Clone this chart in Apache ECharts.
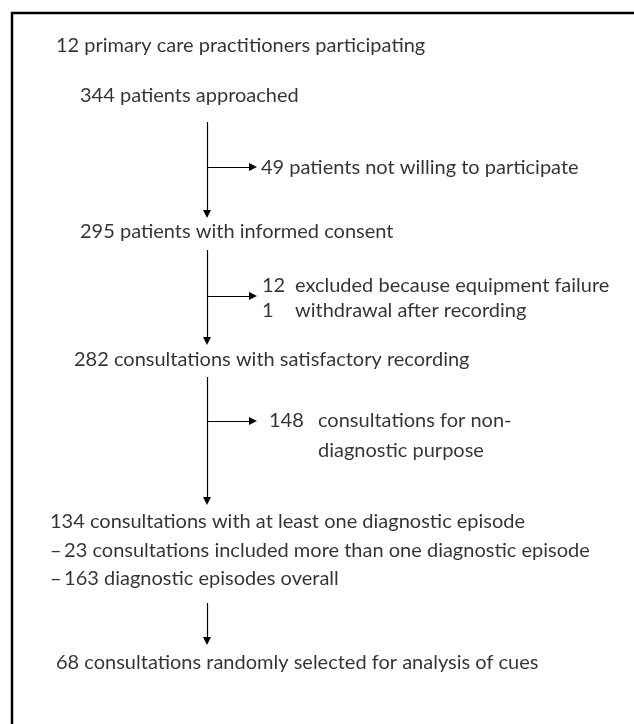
<!DOCTYPE html>
<html>
<head>
<meta charset="utf-8">
<script src="https://cdn.jsdelivr.net/npm/echarts@6/dist/echarts.min.js"></script>
<style>
  html, body { margin: 0; padding: 0; background: #fff; }
  #main { width: 634px; height: 724px; }
</style>
</head>
<body>
<div id="main"></div>
<script>
// main flow stages
var stageCounts = [12, 344, 295, 282, 134, 68];
var stageTexts = [
  "primary care practitioners participating",
  "patients approached",
  "patients with informed consent",
  "consultations with satisfactory recording",
  "consultations with at least one diagnostic episode",
  "consultations randomly selected for analysis of cues"
];
// notes under the 134 stage
var noteCounts = [23, 163];
var noteTexts = [
  "consultations included more than one diagnostic episode",
  "diagnostic episodes overall"
];
// exclusions at each branch
var exclCounts = [[49], [12, 1], [148]];
var exclTexts = [
  ["patients not willing to participate"],
  ["excluded because equipment failure", "withdrawal after recording"],
  ["consultations for non-\ndiagnostic purpose"]
];

(function () {
  var myChart = echarts.init(document.getElementById("main"));

  // layout (pixels)
  var stagePos = [[56, 46], [80, 96], [80, 232], [74, 360], [50, 522], [56, 663]];
  var notePos = [[50, 551], [50, 579]];
  var trunkX = 207;
  var arrows = [[122, 214], [250, 341], [377, 501], [603, 641]];
  var branchY = [167, 296, 421];
  var branchEnd = 253;
  var exclLayout = [
    { numX: 261, txtX: null, y: [168] },
    { numX: 262, txtX: 295, y: [286, 311] },
    { numX: 269, txtX: 318, y: [421] }
  ];

  var font = { fontFamily: "Lato", fontSize: 20, color: "#000" };
  var lineGap = 30;

  var texts = [];
  stageCounts.forEach(function (c, i) {
    texts.push({ value: stagePos[i], text: c + " " + stageTexts[i] });
  });
  noteCounts.forEach(function (c, i) {
    texts.push({ value: notePos[i], text: "\u2013\u2009" + c + " " + noteTexts[i] });
  });
  exclCounts.forEach(function (group, g) {
    var L = exclLayout[g];
    group.forEach(function (c, k) {
      if (L.txtX === null) {
        texts.push({ value: [L.numX, L.y[k]], text: c + " " + exclTexts[g][k] });
      } else {
        texts.push({ value: [L.numX, L.y[k]], text: String(c) });
        texts.push({ value: [L.txtX, L.y[k]], text: exclTexts[g][k] });
      }
    });
  });

  var scatterData = texts.map(function (t) {
    var multi = t.text.indexOf("\n") >= 0;
    return {
      value: t.value,
      label: {
        formatter: t.text,
        verticalAlign: multi ? "top" : "middle",
        offset: multi ? [0, -lineGap / 2] : [0, 0]
      }
    };
  });

  var lineData = [];
  arrows.forEach(function (a) {
    lineData.push({ coords: [[trunkX, a[0]], [trunkX, a[1]]] });
  });
  branchY.forEach(function (y) {
    lineData.push({ coords: [[trunkX, y], [branchEnd, y]] });
  });

  var option = {
    animation: false,
    grid: { left: 0, right: 0, top: 0, bottom: 0 },
    xAxis: { type: "value", min: 0, max: 634, show: false },
    yAxis: { type: "value", min: 0, max: 724, inverse: true, show: false },
    graphic: [
      {
        type: "rect",
        shape: { x: 12, y: 13, width: 700, height: 800 },
        style: { fill: "none", stroke: "#000", lineWidth: 2.5 }
      }
    ],
    series: [
      {
        type: "lines",
        coordinateSystem: "cartesian2d",
        symbol: ["none", "triangle"],
        symbolSize: 8,
        lineStyle: { color: "#000", width: 1.2, opacity: 1 },
        data: lineData
      },
      {
        type: "scatter",
        symbolSize: 0,
        label: {
          show: true,
          position: "right",
          distance: 0,
          lineHeight: lineGap,
          fontFamily: font.fontFamily,
          fontSize: font.fontSize,
          color: font.color
        },
        data: scatterData
      }
    ]
  };

  myChart.setOption(option);
  window.addEventListener("resize", function () {
    myChart.resize();
  });
})();
</script>
</body>
</html>
